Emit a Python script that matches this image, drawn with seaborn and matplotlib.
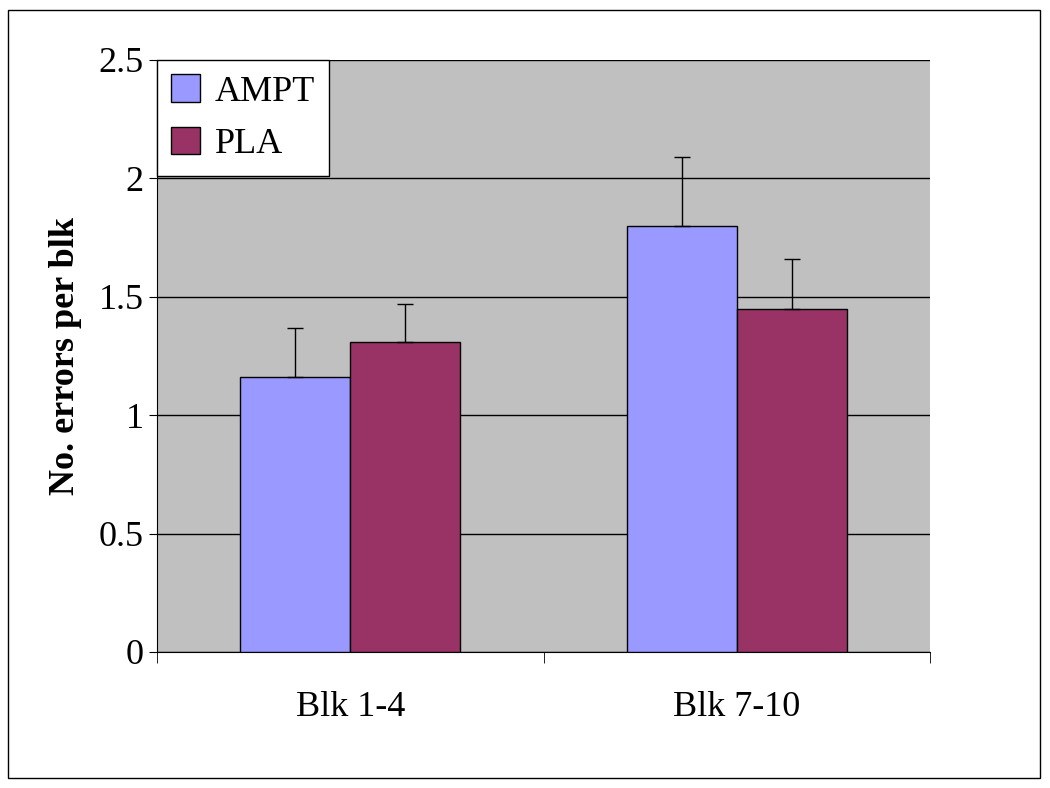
import matplotlib
matplotlib.use("Agg")
import matplotlib.pyplot as plt
import seaborn as sns
import pandas as pd
import numpy as np
from matplotlib.patches import Rectangle

categories = ["Blk 1-4", "Blk 7-10"]
series = ["AMPT", "PLA"]
ampt = [1.16, 1.80]
pla = [1.31, 1.45]
ampt_err = [0.21, 0.29]
pla_err = [0.16, 0.21]
yticks = [0, 0.5, 1, 1.5, 2, 2.5]
ytick_labels = ["0", "0.5", "1", "1.5", "2", "2.5"]

df = pd.DataFrame({
    "cat": categories * 2,
    "series": [series[0]] * 2 + [series[1]] * 2,
    "val": ampt + pla,
})
errs = {series[0]: ampt_err, series[1]: pla_err}

plt.rcParams["font.family"] = "Liberation Serif"
fig = plt.figure(figsize=(10.5, 7.88), dpi=100)
fig.patches.append(Rectangle((8/1050, 10/788), 1032/1050, 768/788, transform=fig.transFigure,
                             fill=False, edgecolor="black", linewidth=1))
ax = fig.add_axes([157/1050, 1-652/788, 773/1050, 592/788])
ax.set_facecolor("#C0C0C0")
sns.barplot(data=df, x="cat", y="val", hue="series", palette=["#9999FF", "#993366"], saturation=1,
            width=0.57, edgecolor="black", linewidth=1, errorbar=None, ax=ax, zorder=3, legend=True)
for cont, s in zip(ax.containers, series):
    for bar, e in zip(cont, errs[s]):
        x = bar.get_x() + bar.get_width()/2
        h = bar.get_height()
        ax.errorbar(x, h, yerr=[[0], [e]], color="black", capsize=6, linewidth=1, zorder=4)
ax.set_ylim(0, 2.5)
ax.set_xlim(-0.5, 1.5)
ax.set_yticks(yticks)
ax.set_yticklabels(ytick_labels, fontsize=26)
ax.yaxis.grid(True, color="black", linewidth=1, zorder=1)
ax.set_axisbelow(True)
ax.set_xticks([0, 1])
ax.set_xticklabels(categories, fontsize=26)
ax.tick_params(axis="x", length=0, pad=28)
ax.set_xticks([-0.5, 0.5, 1.5], minor=True)
ax.tick_params(axis="x", which="minor", length=8, direction="out")
ax.tick_params(axis="y", length=6, direction="out")
for sp in ["top", "right"]:
    ax.spines[sp].set_visible(False)
ax.set_xlabel("")
ax.set_ylabel("No. errors per blk", fontsize=26, fontweight="bold", labelpad=12)
leg = ax.legend(loc="upper left", bbox_to_anchor=(0, 1), fontsize=26, frameon=True, fancybox=False,
                edgecolor="black", framealpha=1, borderaxespad=0, handlelength=0.8, handleheight=0.8,
                handletextpad=0.4, labelspacing=0.5)
leg.get_frame().set_linewidth(1)
fig.savefig("out.png", dpi=100)
